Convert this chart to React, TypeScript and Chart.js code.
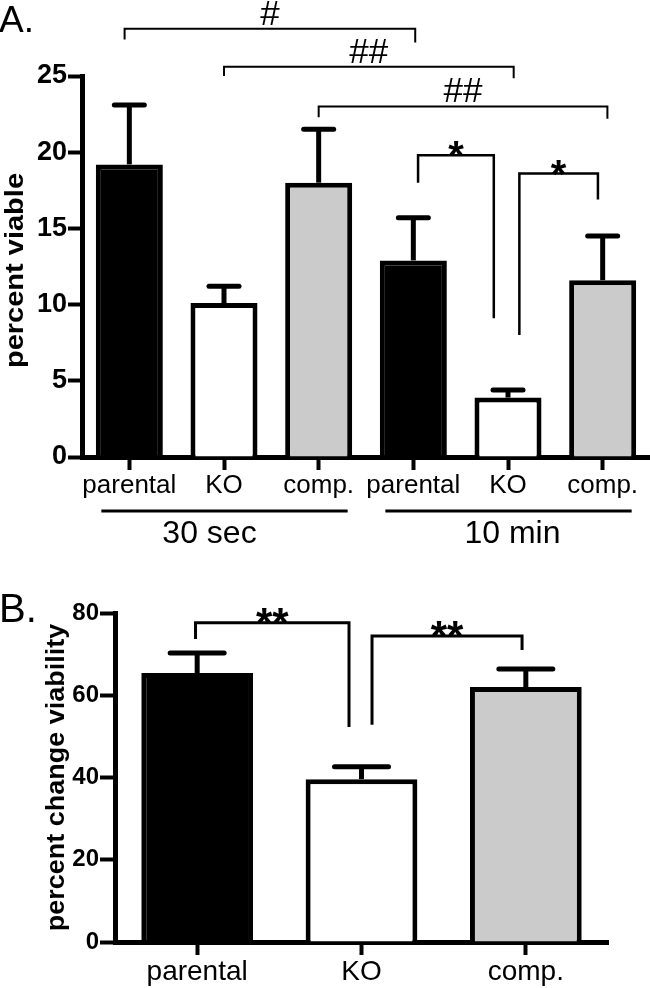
import React, { useEffect, useRef } from "react";
import { Chart, registerables } from "chart.js";

Chart.register(...registerables);

// ---------- Panel A data ----------
const categoriesA = ["parental", "KO", "comp.", "parental", "KO", "comp."];
const meansA = [19.2, 10.1, 18.0, 12.9, 3.9, 11.6];
const semA = [3.9, 1.1, 3.5, 2.8, 0.5, 2.9];
const ticksA = [0, 5, 10, 15, 20, 25];
const timeGroups = ["30 sec", "10 min"];
const groupStart = [0, 3];
const groupEnd = [2, 5];

// significance brackets, panel A (category positions and y values)
const bracketLabelsA = ["#", "##", "##", "*", "*"];
const bracketFromA = [-0.05, 1.0, 2.0, 3.05, 4.12];
const bracketToA = [3.02, 4.06, 5.05, 3.85, 4.95];
const bracketLevelA = [28.1, 25.6, 23.0, 19.8, 18.6];
const bracketLeftEndA = [27.4, 25.0, 22.3, 18.0, 8.0];
const bracketRightEndA = [27.2, 24.85, 22.2, 9.1, 16.9];

// ---------- Panel B data ----------
const categoriesB = ["parental", "KO", "comp."];
const meansB = [65.4, 39.6, 62.0];
const semB = [4.9, 3.0, 4.4];
const ticksB = [0, 20, 40, 60, 80];

const bracketLabelsB = ["**", "**"];
const bracketFromB = [-0.01, 1.064];
const bracketToB = [0.924, 1.977];
const bracketLevelB = [77.6, 74.4];
const bracketLeftEndB = [73.7, 52.8];
const bracketRightEndB = [52.3, 71.0];

const strainColors = ["#000000", "#ffffff", "#cbcbcb"];

const FONT = "'Liberation Sans', Arial, Helvetica, sans-serif";

type Cfg = {
  name: string;
  means: number[];
  sem: number[];
  capHalf: number;
  bLabels: string[];
  bFrom: number[];
  bTo: number[];
  bLevel: number[];
  bLeft: number[];
  bRight: number[];
  bracketWidth: (label: string) => number;
  starFont: number;
  hashFont: number;
  panel: string;
  panelFont: number;
  panelBaseline: number;
  title: string;
  titleFont: number;
  titleX: number;
  titleDy: number;
  titleSquash: number;
  groups?: boolean;
};

function overlay(cfg: Cfg) {
  return {
    id: "overlay" + cfg.name,
    afterDatasetsDraw(chart: any) {
      const ctx = chart.ctx as CanvasRenderingContext2D;
      const x = chart.scales.x;
      const y = chart.scales.y;
      const area = chart.chartArea;
      ctx.save();
      ctx.strokeStyle = "#000";
      ctx.fillStyle = "#000";

      // error bars (upper only)
      cfg.means.forEach((m, i) => {
        const cx = x.getPixelForValue(i);
        const yb = y.getPixelForValue(m);
        const yt = y.getPixelForValue(m + cfg.sem[i]);
        ctx.lineWidth = 5;
        ctx.lineCap = "butt";
        ctx.beginPath();
        ctx.moveTo(cx, yb);
        ctx.lineTo(cx, yt);
        ctx.stroke();
        ctx.lineCap = "round";
        ctx.beginPath();
        ctx.moveTo(cx - cfg.capHalf, yt);
        ctx.lineTo(cx + cfg.capHalf, yt);
        ctx.stroke();
      });

      // brackets
      ctx.lineCap = "butt";
      ctx.lineJoin = "miter";
      cfg.bLabels.forEach((lab, i) => {
        const x0 = x.getPixelForValue(cfg.bFrom[i]);
        const x1 = x.getPixelForValue(cfg.bTo[i]);
        const yl = y.getPixelForValue(cfg.bLevel[i]);
        const ya = y.getPixelForValue(cfg.bLeft[i]);
        const yc = y.getPixelForValue(cfg.bRight[i]);
        ctx.lineWidth = cfg.bracketWidth(lab);
        ctx.beginPath();
        ctx.moveTo(x0, ya);
        ctx.lineTo(x0, yl);
        ctx.lineTo(x1, yl);
        ctx.lineTo(x1, yc);
        ctx.stroke();
        ctx.textAlign = "center";
        ctx.textBaseline = "alphabetic";
        if (lab.includes("*")) {
          ctx.font = `bold ${cfg.starFont}px ${FONT}`;
          ctx.fillText(lab, (x0 + x1) / 2, yl + 14);
        } else {
          ctx.font = `${cfg.hashFont}px ${FONT}`;
          ctx.fillText(lab, (x0 + x1) / 2, yl - 4);
        }
      });

      // group underlines
      if (cfg.groups) {
        const dxs = [-15, 4];
        timeGroups.forEach((g, i) => {
          const a = x.getPixelForValue(groupStart[i]) - 28;
          const b = x.getPixelForValue(groupEnd[i]) + 29;
          const ly = area.bottom + 54;
          ctx.lineWidth = 3;
          ctx.beginPath();
          ctx.moveTo(a, ly);
          ctx.lineTo(b, ly);
          ctx.stroke();
          ctx.font = `32px ${FONT}`;
          ctx.textAlign = "center";
          ctx.textBaseline = "alphabetic";
          ctx.fillText(g, (a + b) / 2 + dxs[i], area.bottom + 86);
        });
      }

      // panel letter
      ctx.font = `${cfg.panelFont}px ${FONT}`;
      ctx.textAlign = "left";
      ctx.textBaseline = "alphabetic";
      ctx.fillText(cfg.panel, -1, cfg.panelBaseline);

      // y title
      ctx.save();
      ctx.translate(cfg.titleX, (area.top + area.bottom) / 2 + cfg.titleDy);
      ctx.rotate(-Math.PI / 2);
      ctx.scale(1, cfg.titleSquash);
      ctx.font = `bold ${cfg.titleFont}px ${FONT}`;
      ctx.textAlign = "center";
      ctx.textBaseline = "middle";
      ctx.fillText(cfg.title, 0, 0);
      ctx.restore();

      ctx.restore();
    },
  };
}

function makeChart(
  canvas: HTMLCanvasElement,
  labels: string[],
  means: number[],
  ticks: number[],
  opts: {
    barPct: number;
    padding: any;
    yWidth: number;
    xHeight: number;
    yTickFont: number;
    yTickLen: number;
    xTickFont: number;
    xTickPad: number;
    plugin: any;
  }
) {
  return new Chart(canvas, {
    type: "bar",
    data: {
      labels,
      datasets: [
        {
          data: means,
          backgroundColor: means.map((_, i) => strainColors[i % 3]),
          borderColor: "#000",
          borderWidth: 5,
          borderSkipped: "start",
          barPercentage: opts.barPct,
          categoryPercentage: 1,
        },
      ],
    },
    options: {
      animation: false,
      responsive: true,
      maintainAspectRatio: false,
      devicePixelRatio: 1,
      layout: { padding: opts.padding },
      plugins: {
        legend: { display: false },
        tooltip: { enabled: false },
        title: { display: false },
      },
      scales: {
        x: {
          type: "category",
          offset: true,
          z: 1,
          grid: {
            offset: false,
            drawOnChartArea: false,
            drawTicks: true,
            tickLength: 13,
            tickWidth: 4,
            tickColor: "#000",
            color: "#000",
          },
          border: { display: true, color: "#000", width: 5 },
          ticks: {
            color: "#000",
            font: { family: FONT, size: opts.xTickFont },
            padding: opts.xTickPad,
            maxRotation: 0,
            autoSkip: false,
          },
          afterFit: (s: any) => {
            s.height = opts.xHeight;
          },
        },
        y: {
          type: "linear",
          min: ticks[0],
          max: ticks[ticks.length - 1],
          z: 1,
          grid: {
            drawOnChartArea: false,
            drawTicks: true,
            tickLength: opts.yTickLen,
            tickWidth: 4,
            tickColor: "#000",
            color: "#000",
          },
          border: { display: true, color: "#000", width: 5 },
          ticks: {
            color: "#000",
            font: { family: FONT, size: opts.yTickFont, weight: "bold" },
            padding: 1,
          },
          afterBuildTicks: (s: any) => {
            s.ticks = ticks.map((v) => ({ value: v }));
          },
          afterFit: (s: any) => {
            s.width = opts.yWidth;
          },
        },
      },
    },
    plugins: [opts.plugin],
  } as any);
}

export default function App() {
  const refA = useRef<HTMLCanvasElement>(null);
  const refB = useRef<HTMLCanvasElement>(null);

  useEffect(() => {
    const chartA = makeChart(refA.current!, categoriesA, meansA, ticksA, {
      barPct: 0.708,
      padding: { top: 76, left: 0, right: 0, bottom: 0 },
      yWidth: 82,
      xHeight: 103,
      yTickFont: 27,
      yTickLen: 14,
      xTickFont: 26,
      xTickPad: 0,
      plugin: overlay({
        name: "A",
        means: meansA,
        sem: semA,
        capHalf: 15,
        bLabels: bracketLabelsA,
        bFrom: bracketFromA,
        bTo: bracketToA,
        bLevel: bracketLevelA,
        bLeft: bracketLeftEndA,
        bRight: bracketRightEndA,
        bracketWidth: (l) => (l.includes("*") ? 2.5 : 2),
        starFont: 40,
        hashFont: 35,
        panel: "A.",
        panelFont: 37,
        panelBaseline: 32,
        title: "percent viable",
        titleFont: 29,
        titleX: 16,
        titleDy: 4,
        titleSquash: 0.9,
        groups: true,
      }),
    });
    const chartB = makeChart(refB.current!, categoriesB, meansB, ticksB, {
      barPct: 0.68,
      padding: { top: 53, left: 0, right: 42, bottom: 0 },
      yWidth: 115,
      xHeight: 46,
      yTickFont: 24,
      yTickLen: 15,
      xTickFont: 28,
      xTickPad: 0,
      plugin: overlay({
        name: "B",
        means: meansB,
        sem: semB,
        capHalf: 27,
        bLabels: bracketLabelsB,
        bFrom: bracketFromB,
        bTo: bracketToB,
        bLevel: bracketLevelB,
        bLeft: bracketLeftEndB,
        bRight: bracketRightEndB,
        bracketWidth: () => 3,
        starFont: 42,
        hashFont: 35,
        panel: "B.",
        panelFont: 40,
        panelBaseline: 62,
        title: "percent change viability",
        titleFont: 27,
        titleX: 57,
        titleDy: 0,
        titleSquash: 0.97,
      }),
    });
    return () => {
      chartA.destroy();
      chartB.destroy();
    };
  }, []);

  return (
    <div
      style={{
        position: "absolute",
        left: 0,
        top: 0,
        width: 650,
        height: 988,
        background: "#fff",
        overflow: "hidden",
      }}
    >
      <div style={{ position: "absolute", left: 0, top: 0, width: 650, height: 560 }}>
        <canvas ref={refA} />
      </div>
      <div style={{ position: "absolute", left: 0, top: 560, width: 650, height: 428 }}>
        <canvas ref={refB} />
      </div>
    </div>
  );
}
